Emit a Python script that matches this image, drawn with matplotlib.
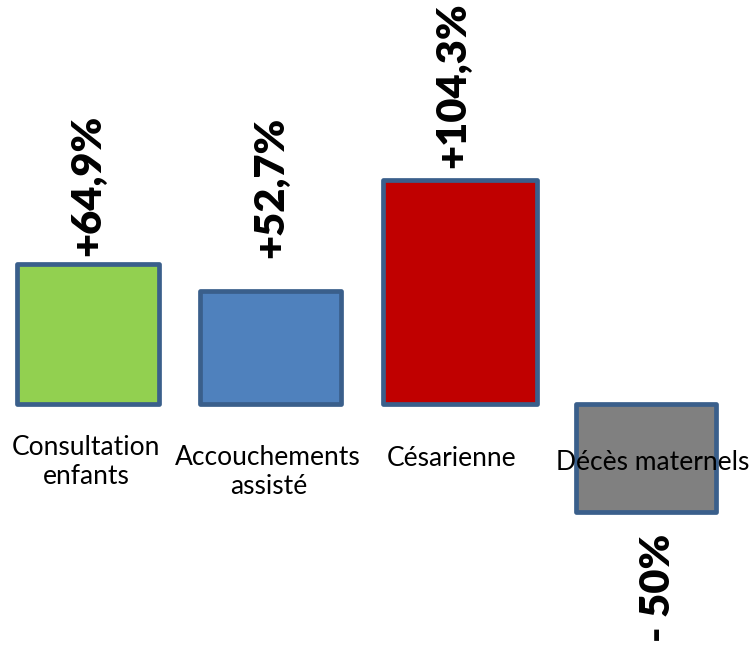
import matplotlib
matplotlib.use("Agg")
import matplotlib.pyplot as plt

plt.rcParams["font.family"] = ["Lato", "DejaVu Sans"]

# indicateurs et évolution (%)
categories = ["Consultation\nenfants", "Accouchements\nassisté", "Césarienne", "Décès maternels"]
variations = [64.9, 52.7, 104.3, -50.0]
labels = ["+64,9%", "+52,7%", "+104,3%", "- 50%"]
couleurs = ["#92D050", "#4F81BD", "#C00000", "#808080"]

# mise en page (unités d'axe / pixels)
x_pos = [0.0, 0.98, 2.0, 3.0]
largeurs = [0.76, 0.76, 0.83, 0.75]
ecart_val = [8, 33, 12, 22]        # écart étiquette / barre, px
dx_val = [0, 1, -7, 12]
cat_offset = [(-2, 58), (-2, 68), (-8, 54), (7, 59)]   # (dx, dy) sous la ligne de base, px

W, H, DPI = 756, 654, 100
PX_PER_UNIT = 2.15
BASE_PX = 404            # ligne de base depuis le haut
X0_PX, UNIT_X = 88, 186  # centre de la 1re barre, px par catégorie

fig = plt.figure(figsize=(W / DPI, H / DPI), dpi=DPI)
ax = fig.add_axes([0, 0, 1, 1])
ax.set_xlim(-X0_PX / UNIT_X, (W - X0_PX) / UNIT_X)
ax.set_ylim(-(H - BASE_PX) / PX_PER_UNIT, BASE_PX / PX_PER_UNIT)
ax.axis("off")

bars = ax.bar(x_pos, variations, width=largeurs, color=couleurs,
              edgecolor="#3A5F8B", linewidth=3.4, zorder=2)
for b in bars:
    b.set_joinstyle("round")

for x, v, lab, gap, dx in zip(x_pos, variations, labels, ecart_val, dx_val):
    if v >= 0:
        ax.annotate(lab, xy=(x, v), xytext=(dx, gap), textcoords="offset pixels",
                    rotation=90, ha="center", va="bottom",
                    fontsize=30, fontweight="heavy", color="black")
    else:
        ax.annotate(lab, xy=(x, v), xytext=(dx, -gap), textcoords="offset pixels",
                    rotation=90, ha="center", va="top",
                    fontsize=30, fontweight="heavy", color="black")

for x, cat, (dx, dy) in zip(x_pos, categories, cat_offset):
    ax.annotate(cat, xy=(x, 0), xytext=(dx, -dy), textcoords="offset pixels",
                ha="center", va="center", fontsize=19, color="black",
                linespacing=1.2, zorder=3)

fig.savefig("out.png", dpi=DPI)
